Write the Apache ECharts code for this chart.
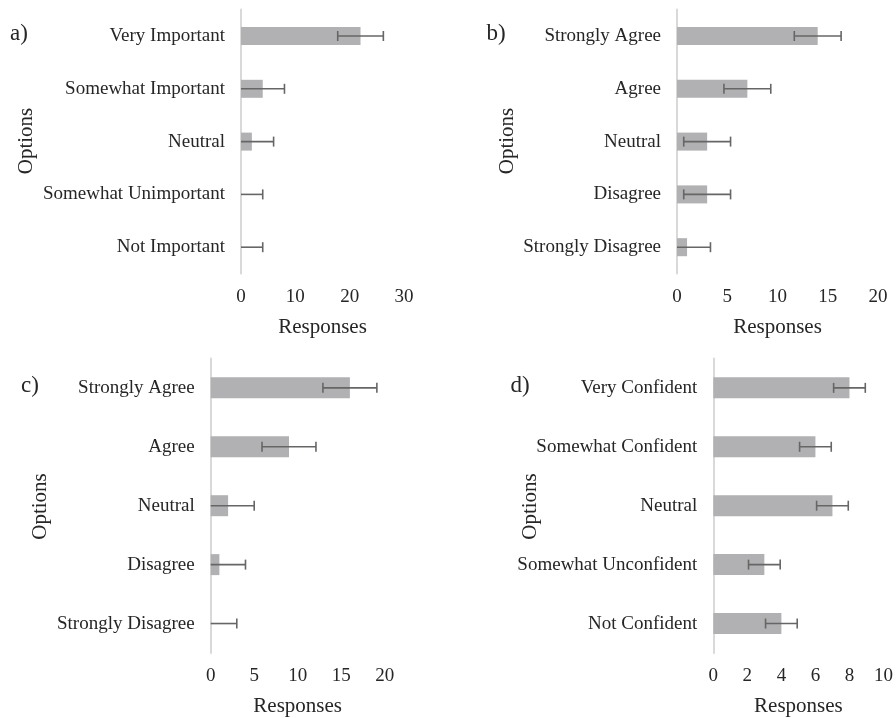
<!DOCTYPE html>
<html>
<head>
<meta charset="utf-8">
<script src="https://cdn.jsdelivr.net/npm/echarts@6/dist/echarts.min.js"></script>
<style>
  html, body { margin: 0; padding: 0; background: #fff; }
  #chart { width: 896px; height: 718px; }
</style>
</head>
<body>
<div id="chart"></div>
<script>
// panel a) importance
var catsA = ["Very Important", "Somewhat Important", "Neutral", "Somewhat Unimportant", "Not Important"];
var valsA = [22, 4, 2, 0, 0];
var errA = [4.2, 4, 4, 4, 4];
// panel b) agreement
var catsB = ["Strongly Agree", "Agree", "Neutral", "Disagree", "Strongly Disagree"];
var valsB = [14, 7, 3, 3, 1];
var errB = [2.33, 2.33, 2.33, 2.33, 2.33];
// panel c) agreement
var catsC = ["Strongly Agree", "Agree", "Neutral", "Disagree", "Strongly Disagree"];
var valsC = [16, 9, 2, 1, 0];
var errC = [3.1, 3.1, 3, 3, 3];
// panel d) confidence
var catsD = ["Very Confident", "Somewhat Confident", "Neutral", "Somewhat Unconfident", "Not Confident"];
var valsD = [8, 6, 7, 3, 4];
var errD = [0.93, 0.93, 0.93, 0.93, 0.93];
// x axis ranges (min, max, interval)
var xRangeA = [0, 30, 10];
var xRangeB = [0, 20, 5];
var xRangeC = [0, 20, 5];
var xRangeD = [0, 10, 2];

var FONT = "'Liberation Serif', 'Times New Roman', serif";
var TXT = "#262626";

var panels = [
  { cats: catsA, vals: valsA, err: errA, range: xRangeA, grid: { left: 241, top: 9.6, width: 163, height: 264 }, bw: 18 },
  { cats: catsB, vals: valsB, err: errB, range: xRangeB, grid: { left: 677, top: 9.6, width: 201, height: 264 }, bw: 18 },
  { cats: catsC, vals: valsC, err: errC, range: xRangeC, grid: { left: 210.7, top: 358.4, width: 174, height: 296 }, bw: 21 },
  { cats: catsD, vals: valsD, err: errD, range: xRangeD, grid: { left: 713.3, top: 358.4, width: 172, height: 296 }, bw: 21 }
];

// error bar drawn as custom series
function errorBar(params, api) {
  var v = api.value(0), idx = api.value(1), e = api.value(2);
  var low = v - e, high = v + e;
  var p0 = api.coord([Math.max(0, low), idx]);
  var p1 = api.coord([high, idx]);
  var h = 5;
  var style = { stroke: "#666666", lineWidth: 1.6 };
  var children = [
    { type: "line", shape: { x1: p0[0], y1: p0[1], x2: p1[0], y2: p1[1] }, style: style },
    { type: "line", shape: { x1: p1[0], y1: p1[1] - h, x2: p1[0], y2: p1[1] + h }, style: style }
  ];
  if (low > 0) {
    children.push({ type: "line", shape: { x1: p0[0], y1: p0[1] - h, x2: p0[0], y2: p0[1] + h }, style: style });
  }
  return { type: "group", children: children };
}

var grids = [], xAxes = [], yAxes = [], series = [];
panels.forEach(function (p, i) {
  grids.push(p.grid);
  xAxes.push({
    gridIndex: i,
    type: "value",
    min: p.range[0], max: p.range[1], interval: p.range[2],
    axisLine: { show: false },
    axisTick: { show: false },
    splitLine: { show: false },
    axisLabel: { margin: 14, fontSize: 19, color: TXT, fontFamily: FONT },
    name: "Responses",
    nameLocation: "middle",
    nameGap: 43,
    nameTextStyle: { fontSize: 21, color: TXT, fontFamily: FONT }
  });
  yAxes.push({
    gridIndex: i,
    type: "category",
    inverse: true,
    data: p.cats,
    axisLine: { show: true, lineStyle: { color: "#d9d9d9", width: 2 } },
    axisTick: { show: false },
    axisLabel: { margin: 16, fontSize: 19, color: TXT, fontFamily: FONT }
  });
  series.push({
    type: "bar",
    xAxisIndex: i, yAxisIndex: i,
    data: p.vals,
    barWidth: p.bw,
    itemStyle: { color: "#b1b1b3" },
    silent: true
  });
  series.push({
    type: "custom",
    xAxisIndex: i, yAxisIndex: i,
    renderItem: errorBar,
    encode: { x: 0, y: 1 },
    data: p.vals.map(function (v, k) { return [v, k, p.err[k]]; }),
    z: 3,
    silent: true
  });
});

var textStyle = { fill: TXT, fontFamily: FONT };
function txt(x, y, s, size, rot) {
  return {
    type: "text", x: x, y: y, rotation: rot || 0,
    style: Object.assign({ text: s, fontSize: size, align: "center", verticalAlign: "middle" }, textStyle)
  };
}

var option = {
  animation: false,
  backgroundColor: "#fff",
  grid: grids,
  xAxis: xAxes,
  yAxis: yAxes,
  series: series,
  graphic: [
    txt(19, 34, "a)", 23),
    txt(496, 34, "b)", 23),
    txt(30, 386, "c)", 23),
    txt(520, 386, "d)", 23),
    txt(26, 141, "Options", 21, Math.PI / 2),
    txt(507, 141, "Options", 21, Math.PI / 2),
    txt(40, 506.5, "Options", 21, Math.PI / 2),
    txt(530, 506.5, "Options", 21, Math.PI / 2)
  ]
};

var chart = echarts.init(document.getElementById("chart"));
chart.setOption(option);
</script>
</body>
</html>
